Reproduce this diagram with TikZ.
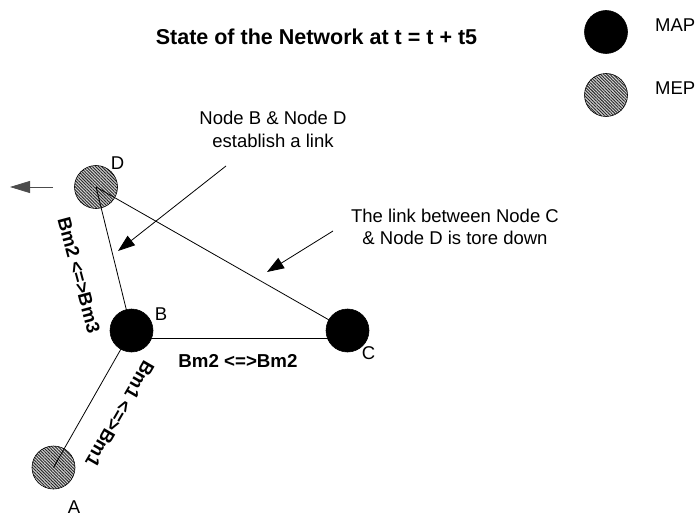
\documentclass[tikz,border=0pt]{standalone}
\usepackage{fontspec}
\setmainfont{Liberation Sans}
\usetikzlibrary{arrows.meta,patterns.meta}
\pgfdeclarelayer{front}
\pgfsetlayers{main,front}
\begin{document}
\begin{tikzpicture}[x=1pt,y=-1pt,
  txt/.style={font=\fontsize{18.5}{22.5}\selectfont, inner sep=0pt},
  btxt/.style={font=\fontsize{18.7}{22}\selectfont\bfseries, inner sep=0pt},
  mapnode/.style={circle, draw=black, fill=black, minimum size=43pt, inner sep=0pt, line width=0.6pt},
  mepnode/.style={circle, draw=black, minimum size=43pt, inner sep=0pt, line width=0.6pt,
    preaction={fill=gray!35}, pattern={Lines[angle=-45,distance=2.2pt,line width=0.9pt]}, pattern color=black!85},
  link/.style={draw=black, line width=0.8pt},
  callout/.style={draw=black, line width=0.8pt, -{Triangle[length=17pt,width=12pt]}},
]
\useasboundingbox (0,0) rectangle (699,516);

% title
\node[font=\fontsize{21.5}{25}\selectfont\bfseries, inner sep=0pt, anchor=base] (title) at (316.5,45) {State of the Network at t = t + t5};

% legend
\node[mapnode] (lmap) at (606,32) {};
\node[txt, anchor=base west] (lmapt) at (655,32) {MAP};
\node[mepnode] (lmep) at (606,95) {};
\node[txt, anchor=base west] (lmept) at (655,95) {MEP};

% MEP nodes
\node[mepnode] (D) at (96,187) {};
\node[mepnode] (A) at (53.5,467.5) {};

% MAP nodes (front layer)
\begin{pgfonlayer}{front}
\node[mapnode] (B) at (131.5,330.5) {};
\node[mapnode] (C) at (347.5,330.5) {};
\end{pgfonlayer}

% node labels
\node[txt, anchor=base] (Dl) at (117.5,169) {D};
\node[txt, anchor=base] (Bl) at (161,320) {B};
\node[txt, anchor=base] (Cl) at (368.5,359) {C};
\node[txt, anchor=base] (Al) at (74,513) {A};

% links
\draw[link] (D.center) -- (B.center);
\draw[link] (D.center) -- (C.center);
\draw[link] ([yshift=-7.5pt]B.center) -- ([yshift=-7.5pt]C.center);
\draw[link] (A.center) -- (B.center);

% link labels
\node[btxt, anchor=base] (lbc) at (238,367) {Bm2 <=>Bm2};
\node[btxt, rotate=-75] (ldb) at (79,275) {Bm2 <=>Bm3};
\node[btxt, rotate=-120] (lab) at (120,414) {Bm1 <=>Bm1};

% callouts
\node[txt, align=center] (t1) at (273,129.3) {Node B \& Node D\\establish a link};
\node[txt, align=center] (t2) at (455,226.8) {The link between Node C\\\& Node D is tore down};

\coordinate (a1s) at (226,166);
\coordinate (a1t) at (118,251);
\coordinate (a2s) at (333,231);
\coordinate (a2t) at (267,272);
\draw[callout] (a1s) -- (a1t);
\draw[callout] (a2s) -- (a2t);

% movement arrow of D
\coordinate (ms) at (53,187);
\coordinate (mt) at (10,187);
\draw[draw=black!70, line width=0.8pt, -{Triangle[length=20pt,width=12pt]}] (ms) -- (mt);
\end{tikzpicture}
\end{document}
